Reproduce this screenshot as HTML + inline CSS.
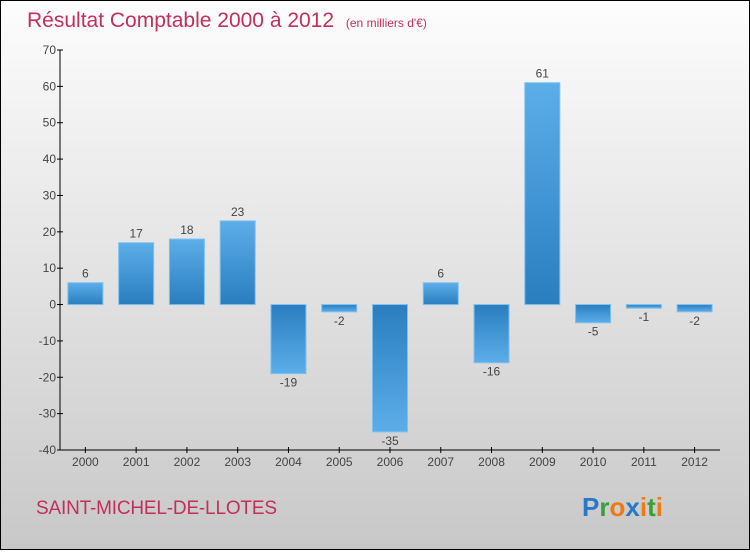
<!DOCTYPE html>
<html><head><meta charset="utf-8"><style>
body{margin:0;}
#c{width:750px;height:550px;position:relative;font-family:"Liberation Sans",sans-serif;}
</style></head><body>
<div id="c">
<svg id="s" width="750" height="550" xmlns="http://www.w3.org/2000/svg">
<defs>
<linearGradient id="bg" x1="0" y1="0" x2="0" y2="1"><stop offset="0" stop-color="#fdfdfd"/><stop offset="1" stop-color="#c8c8c8"/></linearGradient>
<linearGradient id="gp" x1="0" y1="0" x2="0" y2="1"><stop offset="0" stop-color="#5caee9"/><stop offset="1" stop-color="#2a7ebf"/></linearGradient>
<linearGradient id="gn" x1="0" y1="0" x2="0" y2="1"><stop offset="0" stop-color="#2a7ebf"/><stop offset="1" stop-color="#5caee9"/></linearGradient>
</defs>
<rect x="0.5" y="0.5" width="749" height="549" fill="url(#bg)" stroke="#000"/>
<text x="27" y="27" font-size="21" fill="#c0305a">Résultat Comptable 2000 à 2012 <tspan font-size="12" dx="6">(en milliers d'€)</tspan></text>
<g id="plot"></g>
<text x="36" y="514" font-size="19" fill="#c0305a" textLength="241">SAINT-MICHEL-DE-LLOTES</text>
<text x="582" y="516" font-size="26" font-weight="bold"><tspan fill="#2a78c8">P</tspan><tspan fill="#3aa03a">r</tspan><tspan fill="#f07a10">o</tspan><tspan fill="#2a78c8">x</tspan><tspan fill="#f07a10">i</tspan><tspan fill="#3aa03a">t</tspan><tspan fill="#f07a10">i</tspan></text>
</svg>
</div>
<script>
const categories=["2000","2001","2002","2003","2004","2005","2006","2007","2008","2009","2010","2011","2012"];
const values=[6,17,18,23,-19,-2,-35,6,-16,61,-5,-1,-2];
const yTicks=[70,60,50,40,30,20,10,0,-10,-20,-30,-40];
const NS="http://www.w3.org/2000/svg";
const g=document.getElementById('plot');
const x0=60,x1=720,yTop=50,yBot=450,vMax=70,vMin=-40;
const y=v=>yTop+(vMax-v)/(vMax-vMin)*(yBot-yTop);
const step=(x1-x0)/categories.length;
const xc=i=>x0+step*(i+0.5);
function mk(t,a){const e=document.createElementNS(NS,t);for(const k in a)e.setAttribute(k,a[k]);g.appendChild(e);return e;}
let e=mk('line',{x1:x0,y1:yTop,x2:x0,y2:yBot,stroke:'#000'});


e=mk('line',{x1:x0,y1:yBot,x2:x1,y2:yBot,stroke:'#000'});


yTicks.forEach(v=>{
 mk('line',{x1:x0-3,y1:y(v),x2:x0+3,y2:y(v),stroke:'#000'});
 const t=mk('text',{x:x0-4,y:y(v)+4,'font-size':12,fill:'#444','text-anchor':'end'});t.textContent=v;
 
 
});
categories.forEach((c,i)=>{
 const cx=xc(i),v=values[i],w=35;
 mk('line',{x1:cx,y1:yBot-3,x2:cx,y2:yBot+3,stroke:'#000'});
 const t=mk('text',{x:cx,y:yBot+16,'font-size':12,fill:'#444','text-anchor':'middle'});t.textContent=c;
 
 
 const top=Math.min(y(v),y(0)),h=Math.abs(y(v)-y(0));
 const r=mk('rect',{x:cx-w/2,y:top,width:w,height:h,fill:v>=0?'url(#gp)':'url(#gn)',stroke:'#7cc0f0','stroke-width':1});
 
 
 const l=mk('text',{x:cx,y:v>=0?y(v)-5:y(v)+13,'font-size':12,fill:'#444','text-anchor':'middle'});l.textContent=v;
 
 
});
</script>
</body></html>
